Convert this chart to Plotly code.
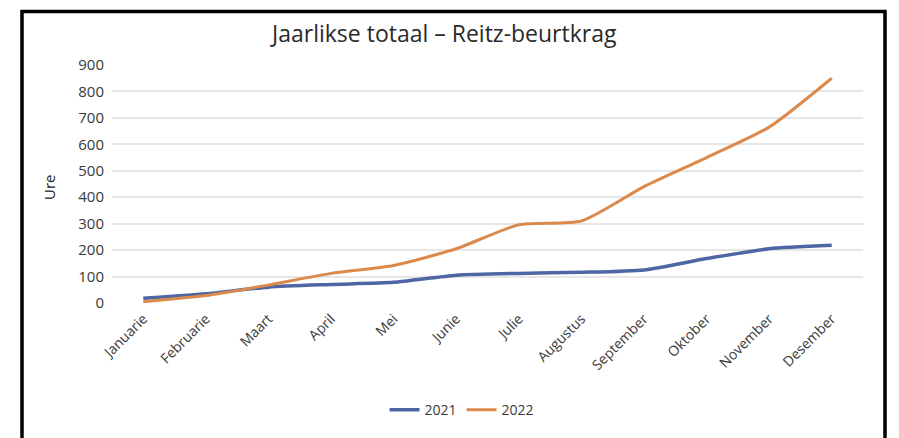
import plotly.graph_objects as go

# Monthly cumulative hours, Reitz power station
months = ["Januarie", "Februarie", "Maart", "April", "Mei", "Junie",
          "Julie", "Augustus", "September", "Oktober", "November", "Desember"]
ure_2021 = [18, 35, 60, 70, 78, 105, 112, 116, 125, 168, 205, 218]
ure_2022 = [5, 28, 68, 112, 142, 205, 296, 310, 440, 550, 665, 850]
y_ticks = [0, 100, 200, 300, 400, 500, 600, 700, 800, 900]

FONT = "Open Sans"
TEXT = "#3a3a3a"

fig = go.Figure()
fig.add_trace(go.Scatter(
    x=months, y=ure_2021, name="2021", mode="lines",
    line=dict(color="#4f66a4", width=3.5, shape="spline", smoothing=0.6),
))
fig.add_trace(go.Scatter(
    x=months, y=ure_2022, name="2022", mode="lines",
    line=dict(color="#db8a4b", width=3, shape="spline", smoothing=0.6),
))

W, H = 899, 438
L, R, T, B = 112, 36, 65, 133
pw, ph = W - L - R, H - T - B


def px_x(x):
    return (x - L) / pw


def px_y(y):
    return (H - B - y) / ph


fig.update_layout(
    width=W, height=H,
    margin=dict(l=L, r=R, t=T, b=B),
    paper_bgcolor="white", plot_bgcolor="white",
    font=dict(family=FONT, size=13, color=TEXT),
    showlegend=True,
    legend=dict(
        orientation="h", x=px_x(462), y=px_y(413),
        xanchor="center", yanchor="middle",
        font=dict(size=14, color=TEXT), bgcolor="rgba(0,0,0,0)",
    ),
    xaxis=dict(
        type="category", range=[-0.5, 11.5], tickangle=-45,
        showgrid=False, zeroline=False, showline=False, ticks="",
        tickfont=dict(size=14, color=TEXT), ticklabelstandoff=4,
    ),
    yaxis=dict(
        range=[0, 900], tickvals=y_ticks, showgrid=True,
        gridcolor="#e6e6e6", gridwidth=1.5, zeroline=False,
        showline=False, ticks="", tickfont=dict(size=15, color=TEXT),
        ticklabelstandoff=7,
    ),
    shapes=[
        # outer frame
        dict(type="rect", xref="paper", yref="paper",
             x0=px_x(22), x1=px_x(885), y0=px_y(445), y1=px_y(11),
             line=dict(color="black", width=3.5), fillcolor="rgba(0,0,0,0)",
             layer="above"),
    ],
    annotations=[
        dict(text="Jaarlikse totaal – Reitz-beurtkrag", xref="paper", yref="paper",
             x=px_x(443), y=px_y(33), xanchor="center", yanchor="middle",
             showarrow=False, font=dict(size=23, color="#2a2a2a", family=FONT),
             bgcolor="white"),
        dict(text="Ure", xref="paper", yref="paper",
             x=px_x(49), y=px_y(188), xanchor="center", yanchor="middle",
             textangle=-90, showarrow=False,
             font=dict(size=15, color="#222222", family=FONT)),
    ],
)

fig.write_html("out.html")
